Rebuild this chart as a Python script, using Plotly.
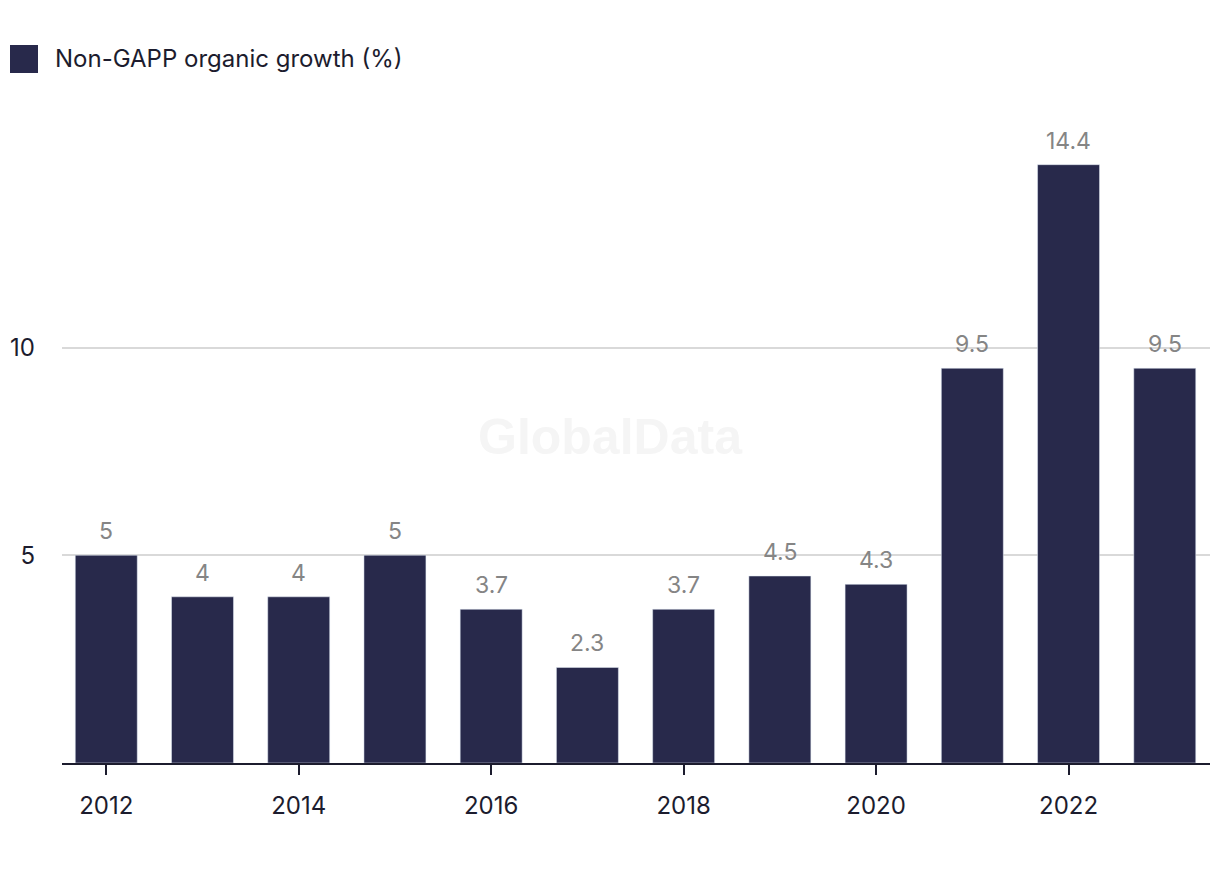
import plotly.graph_objects as go

years = [2012, 2013, 2014, 2015, 2016, 2017, 2018, 2019, 2020, 2021, 2022, 2023]
growth = [5, 4, 4, 5, 3.7, 2.3, 3.7, 4.5, 4.3, 9.5, 14.4, 9.5]
labels = ["5", "4", "4", "5", "3.7", "2.3", "3.7", "4.5", "4.3", "9.5", "14.4", "9.5"]
series_name = "Non-GAPP organic growth (%)"

BAR = "#28294b"
TXT = "#1c1c2e"
FONT = "Inter, Liberation Sans, sans-serif"

# page is offset by 8px body margin
OFF = 8
W, H = 1204, 856
ml, mr, mt, mb = 62 - OFF, 2, 100 - OFF, H - (763 - OFF)

fig = go.Figure()
fig.add_trace(go.Bar(x=years, y=growth, marker_color=BAR, name=series_name,
                     showlegend=False, hoverinfo="x+y"))

for x, y, t in zip(years, growth, labels):
    fig.add_annotation(x=x, y=y, text=t, showarrow=False, yanchor="bottom",
                       yshift=8, font=dict(family=FONT, size=23, color="#858585"))

pw = W - ml - mr
ph = H - mt - mb
def px2paper_x(px):
    return (px - OFF - ml) / pw
def px2paper_y(py):
    return (H - mb - (py - OFF)) / ph

# watermark
fig.add_annotation(xref="paper", yref="paper", x=px2paper_x(610), y=px2paper_y(437),
                   text="<b>GlobalData</b>", showarrow=False,
                   font=dict(family="Liberation Sans, Arial, sans-serif", size=50, color="#f5f5f5"))

# legend (manual)
fig.add_shape(type="rect", xref="paper", yref="paper",
              x0=px2paper_x(10), x1=px2paper_x(38), y0=px2paper_y(73), y1=px2paper_y(45),
              fillcolor=BAR, line=dict(width=0))
fig.add_annotation(xref="paper", yref="paper", x=px2paper_x(53), y=px2paper_y(58),
                   xanchor="left", yanchor="middle", text=series_name, showarrow=False,
                   font=dict(family=FONT, size=24, color=TXT))

fig.update_layout(
    width=W, height=H,
    margin=dict(l=ml, r=mr, t=mt, b=mb),
    plot_bgcolor="white", paper_bgcolor="white",
    bargap=0.356,
    font=dict(family=FONT, color=TXT),
    showlegend=False,
)
fig.update_xaxes(range=[2011.54, 2023.47], tickvals=[2012, 2014, 2016, 2018, 2020, 2022],
                 ticks="outside", ticklen=10, tickwidth=2, tickcolor=TXT,
                 showline=True, linecolor=TXT, linewidth=2, showgrid=False,
                 tickfont=dict(size=24, color=TXT), ticklabelstandoff=10, zeroline=False)
fig.update_yaxes(range=[0, ph / 41.55], tickvals=[5, 10], ticktext=["5", "10"],
                 showgrid=True, gridcolor="#d9d9d9", gridwidth=1.5, zeroline=False,
                 showline=False, ticks="", tickfont=dict(size=24, color=TXT),
                 ticklabelstandoff=26)

fig.write_html("out.html")
